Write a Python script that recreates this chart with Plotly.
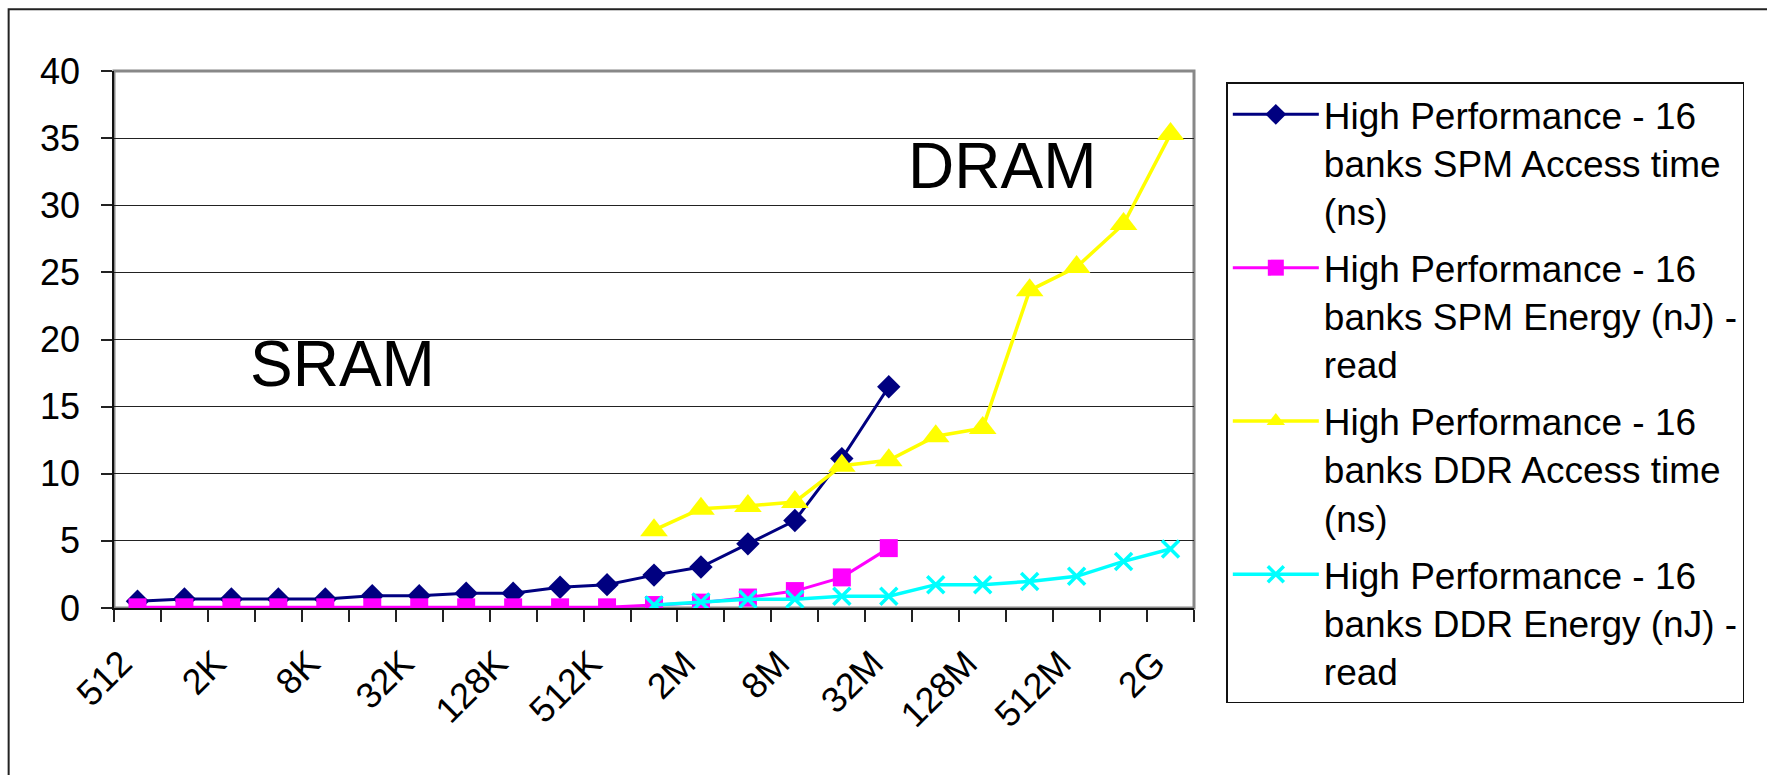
import plotly.graph_objects as go

categories = ["512", "1K", "2K", "4K", "8K", "16K", "32K", "64K", "128K", "256K",
              "512K", "1M", "2M", "4M", "8M", "16M", "32M", "64M", "128M", "256M",
              "512M", "1G", "2G"]
tick_labels = ["512", "", "2K", "", "8K", "", "32K", "", "128K", "", "512K", "",
               "2M", "", "8M", "", "32M", "", "128M", "", "512M", "", "2G"]

spm_access = [0.5, 0.67, 0.67, 0.67, 0.67, 0.92, 0.92, 1.1, 1.1, 1.55, 1.74,
              2.45, 3.05, 4.78, 6.52, 11.13, 16.48]
spm_energy = [0.05, 0.05, 0.05, 0.05, 0.05, 0.05, 0.05, 0.05, 0.05, 0.05, 0.05,
              0.22, 0.4, 0.78, 1.26, 2.28, 4.46]
ddr_access = [5.8, 7.4, 7.6, 7.9, 10.6, 11.0, 12.8, 13.4, 23.66, 25.4, 28.6, 35.3]
ddr_energy = [0.22, 0.45, 0.65, 0.65, 0.87, 0.87, 1.74, 1.74, 1.98, 2.36, 3.47, 4.39]

names = [
    "High Performance - 16<br>banks SPM Access time<br>(ns)",
    "High Performance - 16<br>banks SPM Energy (nJ) -<br>read",
    "High Performance - 16<br>banks DDR Access time<br>(ns)",
    "High Performance - 16<br>banks DDR Energy (nJ) -<br>read",
]

W, H = 1767, 775
ML, MR, MT, MB = 114.3, 1767 - 1193.7, 70.7, 775 - 608.3
PW, PH = W - ML - MR, H - MT - MB

def px(x):
    return (x - ML) / PW

def py(y):
    return (H - MB - y) / PH

FONT = "Liberation Sans, Arial, sans-serif"

fig = go.Figure()
fig.add_trace(go.Scatter(
    x=categories[:len(spm_access)], y=spm_access, name=names[0], mode="lines+markers",
    line=dict(color="#000080", width=3),
    marker=dict(symbol="diamond", size=18, color="#000080"), legendgroup="a"))
fig.add_trace(go.Scatter(
    x=categories[:len(spm_energy)], y=spm_energy, name=names[1], mode="lines+markers",
    line=dict(color="#FF00FF", width=3),
    marker=dict(symbol="square", size=18, color="#FF00FF"), legendgroup="b"))
fig.add_trace(go.Scatter(
    x=categories[11:11 + len(ddr_access)], y=ddr_access, name=names[2], mode="lines+markers",
    line=dict(color="#FFFF00", width=3.5),
    marker=dict(symbol="triangle-up", size=24, color="#FFFF00"), legendgroup="c"))
fig.add_trace(go.Scatter(
    x=categories[11:11 + len(ddr_energy)], y=ddr_energy, name=names[3], mode="lines+markers",
    line=dict(color="#00FFFF", width=3.5),
    marker=dict(symbol="x-thin", size=17, color="#00FFFF",
                line=dict(color="#00FFFF", width=3.5)), legendgroup="d"))

fig.update_layout(
    width=W, height=H,
    margin=dict(l=ML, r=MR, t=MT, b=MB, pad=0, autoexpand=False),
    paper_bgcolor="white", plot_bgcolor="white",
    font=dict(family=FONT, size=36, color="black"),
    showlegend=True,
    legend=dict(
        x=px(1226), y=py(82), xanchor="left", yanchor="top",
        bordercolor="#111111", borderwidth=1.5, bgcolor="white",
        font=dict(family=FONT, size=37, color="black"),
        valign="top", itemwidth=86, tracegroupgap=6,
        traceorder="grouped", maxheight=740,
    ),
    xaxis=dict(
        type="category", categoryorder="array", categoryarray=categories,
        range=[-0.5, len(categories) - 0.5], automargin=False,
        tickmode="array", tickvals=categories, ticktext=tick_labels,
        tickson="boundaries", ticks="outside", ticklen=12, tickwidth=1.5,
        tickcolor="#222222", tickangle=-45,
        ticklabelshift=-16, ticklabelstandoff=18,
        showline=True, linecolor="#111111", linewidth=1.5,
        showgrid=False, zeroline=False,
        tickfont=dict(family=FONT, size=36),
    ),
    yaxis=dict(
        range=[0, 40], dtick=5, tick0=0, automargin=False,
        ticks="outside", ticklen=11, tickwidth=1.5, tickcolor="#222222",
        showline=True, linecolor="#111111", linewidth=1.5,
        showgrid=True, gridcolor="#222222", gridwidth=1,
        zeroline=False, ticklabelstandoff=14,
        tickfont=dict(family=FONT, size=36),
    ),
    shapes=[
        dict(type="rect", xref="paper", yref="paper", x0=0, y0=0, x1=1, y1=1,
             line=dict(color="#888888", width=3), layer="below"),
        dict(type="rect", xref="paper", yref="paper",
             x0=px(9), y0=py(9), x1=px(W + 30), y1=py(H + 30),
             line=dict(color="#222222", width=2), layer="below"),
    ],
    annotations=[
        dict(text="SRAM", xref="paper", yref="paper", x=px(343), y=py(364),
             xanchor="center", yanchor="middle",
             showarrow=False, font=dict(family=FONT, size=64, color="black")),
        dict(text="DRAM", xref="paper", yref="paper", x=px(1002), y=py(166),
             xanchor="center", yanchor="middle",
             showarrow=False, font=dict(family=FONT, size=64, color="black")),
    ],
)

fig.write_html(
    "out.html",
    config={"displayModeBar": False},
    post_script="document.body.style.margin='0';document.body.style.overflow='hidden';",
)
